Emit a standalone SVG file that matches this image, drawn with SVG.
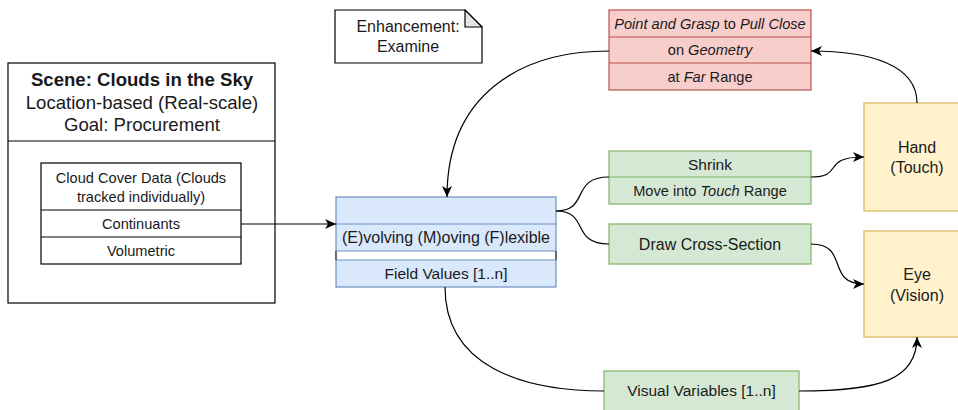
<svg xmlns="http://www.w3.org/2000/svg" width="958" height="410" viewBox="0 0 958 410">
  <style>
    text { font-family: "Liberation Sans", Arial, sans-serif; fill: #1a1a1a; text-anchor: middle; }
    .t16 { font-size: 16px; }
    .t15 { font-size: 15.5px; }
    .t14 { font-size: 14.6px; }
    .hdr { font-size: 18.6px; }
    .b { font-weight: bold; }
    .i { font-style: italic; }
    .plain { fill: #ffffff; stroke: #000000; stroke-width: 1.2; }
    .blue { fill: #dae8fc; stroke: #6c8ebf; stroke-width: 1.2; }
    .green { fill: #d5e8d4; stroke: #82b366; stroke-width: 1.2; }
    .red { fill: #f8cecc; stroke: #b85450; stroke-width: 1.2; }
    .yellow { fill: #fff2cc; stroke: #d6b656; stroke-width: 1.2; }
    .edge { fill: none; stroke: #000000; stroke-width: 1.2; }
  </style>
  <defs>
    <marker id="arrow" markerUnits="userSpaceOnUse" markerWidth="12" markerHeight="10" viewBox="0 0 12 10" refX="11" refY="5" orient="auto">
      <path d="M0,0 L11,5 L0,10 L3,5 z" fill="#000000"/>
    </marker>
  </defs>

  <rect width="958" height="410" fill="#ffffff"/>

  <!-- scene container -->
  <g id="scene">
    <rect class="plain" x="8" y="63" width="267" height="240"/>
    <line x1="8" y1="141" x2="275" y2="141" stroke="#000" stroke-width="1.2"/>
    <text class="hdr b" x="142" y="86">Scene: Clouds in the Sky</text>
    <text class="hdr" x="142" y="108.5">Location-based (Real-scale)</text>
    <text class="hdr" x="142" y="131">Goal: Procurement</text>
  </g>

  <!-- data description list -->
  <g id="cloud-data">
    <rect class="plain" x="41" y="163" width="200" height="101"/>
    <line x1="41" y1="210" x2="241" y2="210" stroke="#000" stroke-width="1.2"/>
    <line x1="41" y1="237" x2="241" y2="237" stroke="#000" stroke-width="1.2"/>
    <text class="t14" x="141" y="183">Cloud Cover Data (Clouds</text>
    <text class="t14" x="141" y="202">tracked individually)</text>
    <text class="t14" x="141" y="228.5">Continuants</text>
    <text class="t14" x="141" y="255.5">Volumetric</text>
  </g>

  <!-- note -->
  <g id="note">
    <path d="M335,10 H465 L482,27 V63 H335 Z" fill="#ffffff" stroke="#000" stroke-width="1.2"/>
    <path d="M465,10 V27 H482 Z" fill="#e6e6e6" stroke="#000" stroke-width="1.2" stroke-linejoin="round"/>
    <text class="t16" x="408" y="32">Enhancement:</text>
    <text class="t16" x="408" y="52">Examine</text>
  </g>

  <!-- EMF list -->
  <g id="emf">
    <rect class="blue" x="336" y="197" width="220" height="90"/>
    <line x1="336" y1="224" x2="556" y2="224" stroke="#6c8ebf" stroke-width="1.2"/>
    <rect x="336.6" y="251" width="218.8" height="9" fill="#ffffff"/>
    <line x1="336" y1="251" x2="556" y2="251" stroke="#6c8ebf" stroke-width="1.2"/>
    <line x1="336" y1="260" x2="556" y2="260" stroke="#6c8ebf" stroke-width="1.2"/>
    <line x1="336" y1="251" x2="336" y2="260" stroke="#333333" stroke-width="1.2"/>
    <line x1="556" y1="251" x2="556" y2="260" stroke="#333333" stroke-width="1.2"/>
    <text class="t16" x="446" y="243">(E)volving (M)oving (F)lexible</text>
    <text class="t15" x="446" y="278.5">Field Values [1..n]</text>
  </g>

  <!-- far-range interaction -->
  <g id="pull-close">
    <rect class="red" x="609" y="10" width="202" height="80"/>
    <line x1="609" y1="37" x2="811" y2="37" stroke="#b85450" stroke-width="1.2"/>
    <line x1="609" y1="63" x2="811" y2="63" stroke="#b85450" stroke-width="1.2"/>
    <text class="t14" x="710" y="28.5"><tspan class="i">Point and Grasp</tspan> to <tspan class="i">Pull Close</tspan></text>
    <text class="t14" x="710" y="55">on <tspan class="i">Geometry</tspan></text>
    <text class="t14" x="710" y="81.5">at <tspan class="i">Far</tspan> Range</text>
  </g>

  <!-- shrink interaction -->
  <g id="shrink">
    <rect class="green" x="609" y="151" width="202" height="53"/>
    <line x1="609" y1="177" x2="811" y2="177" stroke="#82b366" stroke-width="1.2"/>
    <text class="t15" x="710" y="169.5">Shrink</text>
    <text class="t14" x="710" y="196">Move into <tspan class="i">Touch</tspan> Range</text>
  </g>

  <g id="cross-section">
    <rect class="green" x="609" y="224" width="202" height="40"/>
    <text class="t16" x="710" y="249.5">Draw Cross-Section</text>
  </g>

  <g id="visual-variables">
    <rect class="green" x="604" y="371" width="195" height="44"/>
    <text class="t15" x="701.5" y="396">Visual Variables [1..n]</text>
  </g>

  <!-- senses -->
  <g id="hand">
    <rect class="yellow" x="864" y="103" width="106" height="108"/>
    <text class="t16" x="917" y="152.5">Hand</text>
    <text class="t16" x="917" y="173">(Touch)</text>
  </g>

  <g id="eye">
    <rect class="yellow" x="864" y="231" width="106" height="106"/>
    <text class="t16" x="917" y="280">Eye</text>
    <text class="t16" x="917" y="300.5">(Vision)</text>
  </g>

  <!-- connectors -->
  <g id="connectors">
    <path class="edge" d="M241,224 H336" marker-end="url(#arrow)"/>
    <path class="edge" d="M609,51 C520,51 447,95 447,197" marker-end="url(#arrow)"/>
    <path class="edge" d="M917,103 C917,65 870,51 811,51" marker-end="url(#arrow)"/>
    <path class="edge" d="M556,211 C590,211 570,177 609,177"/>
    <path class="edge" d="M556,211 C590,211 570,244 609,244"/>
    <path class="edge" d="M811,177 C845,177 820,157 864,157" marker-end="url(#arrow)"/>
    <path class="edge" d="M811,244 C850,244 825,284 864,284" marker-end="url(#arrow)"/>
    <path class="edge" d="M445,287 C445,365 520,391 604,391"/>
    <path class="edge" d="M799,391 C880,391 917,380 917,337" marker-end="url(#arrow)"/>
  </g>
</svg>
